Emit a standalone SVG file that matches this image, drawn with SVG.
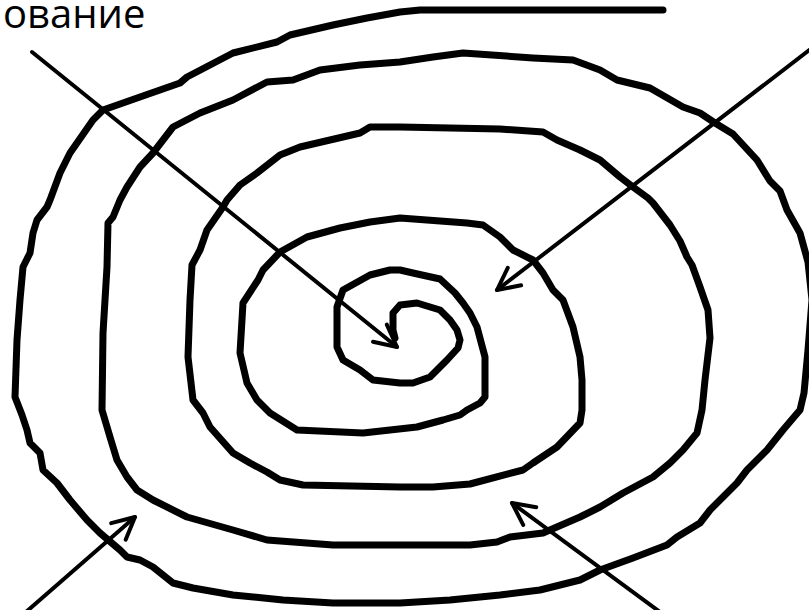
<svg xmlns="http://www.w3.org/2000/svg" width="809" height="610" viewBox="0 0 809 610">
<style>
.sp{fill:none;stroke:#000;stroke-width:7;stroke-linejoin:round;stroke-linecap:round}
.ar{fill:none;stroke:#000;stroke-width:4;stroke-linecap:round;stroke-linejoin:round}
.lbl{font-family:"Open Sans","Noto Sans",sans-serif;font-size:40px;fill:#000}
</style>
<defs>
<marker id="v" markerUnits="userSpaceOnUse" markerWidth="60" markerHeight="60" refX="0" refY="0" orient="auto" overflow="visible">
<path d="M-22,-11 L0,0 L-22,11" fill="none" stroke="#000" stroke-width="4" stroke-linecap="round" stroke-linejoin="round"/>
</marker>
</defs>
<rect width="809" height="610" fill="#fff"/>
<text class="lbl" x="3" y="28">ование</text>
<g id="spiral">
<path class="sp" d="M663,10 L420,10 L400,12 L367,18 L333,25 L290,35 L277,42 L233,53 L187,77 L180,83 L140,97 L103,110 L93,120 L70,153 L60,173 L50,200 L47,207 L37,220 L33,233 L30,253 L23,267 L20,300 L17,340 L15,397 L22,415 L27,430 L30,443 L40,453 L43,470 L57,483 L70,500 L87,520 L100,533 L120,550 L127,557 L140,560 L153,567 L173,583 L193,588 L233,595 L283,600 L333,603 L400,603 L450,600 L500,595 L540,590 L580,580 L600,570 L633,558 L667,545 L677,537 L700,523 L710,510 L723,497 L737,483 L747,470 L767,450 L783,430 L800,410 L804,393 L808,350 L812,300 L808,262 L800,233 L787,210 L780,191 L770,181 L757,160 L733,134 L715,123 L700,113 L683,107 L650,88 L617,80 L600,70 L573,60 L533,58 L463,53 L433,57 L400,62 L360,65 L320,70 L293,80 L267,82 L233,100 L200,113 L173,127 L153,153 L140,167 L127,187 L120,200 L113,217 L108,223 L107,267 L103,333 L102,410 L110,437 L117,460 L127,477 L137,490 L153,500 L187,517 L233,530 L267,540 L333,545 L400,545 L470,545 L497,542 L510,537 L543,533 L580,517 L600,507 L623,493 L653,477 L670,463 L683,450 L697,433 L702,410 L705,380 L710,338 L708,310 L700,287 L692,265 L687,257 L680,241 L670,225 L653,203 L648,198 L633,187 L620,177 L600,160 L580,150 L557,140 L543,132 L500,129 L400,127 L370,127 L360,133 L330,140 L300,147 L280,155 L257,173 L240,185 L227,200 L223,207 L207,230 L200,250 L192,265 L190,300 L188,357 L193,400 L203,413 L210,427 L233,453 L250,463 L267,472 L280,480 L303,485 L400,487 L433,487 L470,484 L523,470 L533,463 L557,447 L580,423 L582,410 L582,380 L580,357 L573,327 L563,300 L553,290 L543,273 L533,260 L513,250 L500,237 L483,225 L467,223 L400,218 L370,222 L340,228 L307,237 L280,252 L263,270 L258,280 L243,303 L240,353 L247,383 L257,400 L270,413 L297,430 L363,433 L417,427 L443,420 L460,415 L467,410 L480,403 L485,397 L485,357 L477,327 L470,313 L463,303 L455,293 L440,279 L413,273 L400,270 L390,270 L370,275 L343,290 L337,307 L337,347 L343,360 L360,370 L373,380 L400,383 L413,383 L430,377 L447,360 L458,348 L460,340 L457,330 L450,320 L440,310 L417,303 L400,305 L393,313 L393,330 L395,338"/>
</g>
<g id="connectors">
<line class="ar" x1="32" y1="52" x2="397" y2="347" marker-end="url(#v)"/>
<line class="ar" x1="812" y1="48" x2="497" y2="290" marker-end="url(#v)"/>
<line class="ar" x1="26" y1="612" x2="135" y2="517" marker-end="url(#v)"/>
<line class="ar" x1="660" y1="612" x2="512" y2="503" marker-end="url(#v)"/>
</g>
</svg>
